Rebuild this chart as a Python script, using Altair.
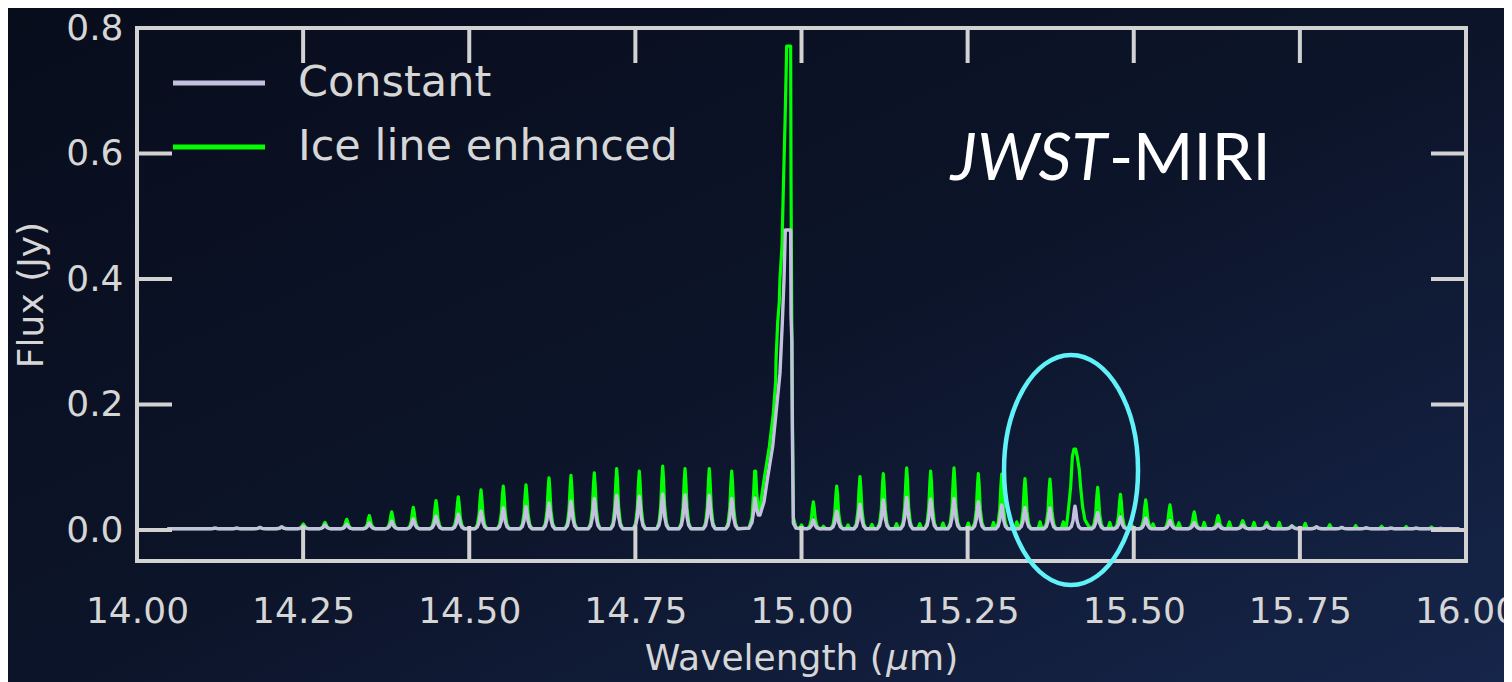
import altair as alt
import pandas as pd

W, H = 1329, 533
FONT = "DejaVu Sans"
TXT = "#d6d6d6"
FRAME = "#d2d2d2"
C_CONST = "#c4c1df"
C_ICE = "#00ff00"
C_ELL = "#60f2f8"

# ---- data -----------------------------------------------------------------
# P- and R-branch line centres (micron) and peak fluxes (Jy)
line_wl = [14.0546, 14.0847, 14.1174, 14.1500, 14.1850, 14.2178, 14.2503, 14.2829, 14.3156, 14.3496,
           14.3833, 14.4158, 14.4500, 14.4835, 14.5177, 14.5512, 14.5854, 14.6200, 14.6531, 14.6882,
           14.7219, 14.7559, 14.7911, 14.8247, 14.8612, 14.8950,
           15.0178, 15.0530, 15.0880, 15.1231, 15.1583, 15.1944, 15.2295, 15.2661, 15.3013, 15.3363,
           15.3739, 15.4116, 15.4457, 15.4800, 15.5180, 15.5545, 15.5910, 15.6270, 15.6640, 15.7000,
           15.7380, 15.7750, 15.8130, 15.8500, 15.8870, 15.9250, 15.9620]
const_peak = [0.002, 0.002, 0.003, 0.003, 0.004, 0.005, 0.006, 0.008, 0.009, 0.011,
              0.014, 0.0175, 0.022, 0.025, 0.030, 0.035, 0.037, 0.043, 0.046, 0.050,
              0.055, 0.054, 0.057, 0.056, 0.055, 0.050,
              0.016, 0.030, 0.041, 0.048, 0.052, 0.049, 0.050, 0.045, 0.040, 0.036,
              0.035, 0.038, 0.028, 0.021, 0.019, 0.015, 0.012, 0.0096, 0.008, 0.007,
              0.006, 0.005, 0.004, 0.0035, 0.003, 0.003, 0.0025]
ice_peak = [0.002, 0.002, 0.003, 0.003, 0.004, 0.005, 0.0096, 0.012, 0.017, 0.023,
            0.029, 0.036, 0.047, 0.053, 0.064, 0.070, 0.072, 0.083, 0.087, 0.091,
            0.098, 0.094, 0.102, 0.098, 0.098, 0.094,
            0.045, 0.070, 0.085, 0.090, 0.099, 0.094, 0.099, 0.090, 0.089, 0.082,
            0.081, None, 0.068, 0.057, 0.048, 0.040, 0.029, 0.023, 0.015, 0.012,
            0.007, 0.005, 0.004, 0.0035, 0.003, 0.003, 0.0025]

# weak lines seen only in the enhanced model
weak_wl = [15.000, 15.033, 15.070, 15.106, 15.143, 15.178, 15.213, 15.251, 15.289, 15.324,
           15.359, 15.394, 15.464, 15.497, 15.529, 15.568, 15.606, 15.644, 15.681, 15.719,
           15.758, 15.795, 15.834, 15.873, 15.910, 15.948]
weak_peak = [0.008, 0.006, 0.008, 0.009, 0.010, 0.010, 0.011, 0.011, 0.012, 0.013,
             0.013, 0.013, 0.012, 0.008, 0.0096, 0.0117, 0.012, 0.0128, 0.012, 0.012,
             0.0105, 0.0085, 0.007, 0.006, 0.0055, 0.005]

# Q-branch (incl. the last P line) traced point by point
q_wl_const = [14.921, 14.9255, 14.928, 14.930, 14.932, 14.935, 14.9375, 14.9436, 14.9485, 14.9566,
              14.9616, 14.9666, 14.9676, 14.9711, 14.9737, 14.9756, 14.9837, 14.9842, 14.9855,
              14.9862, 14.9877, 14.9917]
q_flux_const = [0.003, 0.012, 0.030, 0.051, 0.035, 0.024, 0.024, 0.045, 0.080, 0.133,
                0.186, 0.239, 0.250, 0.330, 0.400, 0.478, 0.478, 0.343, 0.300,
                0.160, 0.011, 0.003]
q_wl_ice = [14.921, 14.9255, 14.928, 14.9295, 14.931, 14.9325, 14.935, 14.9375, 14.9436, 14.9516,
            14.9576, 14.9612, 14.9616, 14.9641, 14.9666, 14.9676, 14.9707, 14.9726, 14.9752,
            14.9777, 14.9837, 14.9842, 14.9857, 14.9877, 14.9917]
q_flux_ice = [0.003, 0.020, 0.060, 0.094, 0.094, 0.060, 0.032, 0.035, 0.080, 0.133,
              0.186, 0.239, 0.268, 0.330, 0.364, 0.400, 0.454, 0.542, 0.648,
              0.771, 0.771, 0.558, 0.266, 0.020, 0.004]

# enhanced ice-line feature near 15.41 micron
feat_wl = [15.3985, 15.4016, 15.4051, 15.4076, 15.4100, 15.4125, 15.4150, 15.4180, 15.4200,
           15.4230, 15.4266, 15.4316, 15.4340]
feat_flux = [0.004, 0.032, 0.069, 0.117, 0.129, 0.129, 0.117, 0.096, 0.069,
             0.037, 0.016, 0.007, 0.004]

data_range = [14.050, 15.990]
x_ticks = [14.0, 14.25, 14.5, 14.75, 15.0, 15.25, 15.5, 15.75, 16.0]
y_ticks = [0.0, 0.2, 0.4, 0.6, 0.8]
series_names = ["Constant", "Ice line enhanced"]
x_title_parts = ["Wavelength (", "μ", "m)"]

# annotation anchors (data coordinates)
label_pos = {"wl": 15.4612, "flux": 0.5578}
ellipse_pos = {"wl": 15.4056, "flux": 0.0956}

# ---- table building ---------------------------------------------------------
BASE = 0.002
OFF = [-0.009, -0.0055, -0.003, -0.0012, 0.0, 0.0012, 0.003, 0.0055, 0.009]
FRAC = [0.0, 0.1, 0.35, 0.8, 1.0, 0.8, 0.35, 0.1, 0.0]
WOFF = [-0.0035, -0.0015, 0.0, 0.0015, 0.0035]
WFRAC = [0.0, 0.5, 1.0, 0.5, 0.0]


def spikes(centres, peaks, off, frac):
    pts = []
    for c, h in zip(centres, peaks):
        if h is None:
            continue
        pts += [(c + o, BASE + f * (h - BASE)) for o, f in zip(off, frac)]
    return pts


ends = [(data_range[0], BASE), (data_range[1], BASE)]
const_pts = ends + spikes(line_wl, const_peak, OFF, FRAC) + list(zip(q_wl_const, q_flux_const))
ice_pts = (ends + spikes(line_wl, ice_peak, OFF, FRAC) + spikes(weak_wl, weak_peak, WOFF, WFRAC)
           + list(zip(q_wl_ice, q_flux_ice)) + list(zip(feat_wl, feat_flux)))

const_df = pd.DataFrame(const_pts, columns=["wl", "flux"]).sort_values("wl").drop_duplicates("wl")
ice_df = pd.DataFrame(ice_pts, columns=["wl", "flux"]).sort_values("wl").drop_duplicates("wl")
const_df["series"] = series_names[0]
ice_df["series"] = series_names[1]

one = pd.DataFrame({"a": [0]})

x_enc = alt.X("wl:Q", scale=alt.Scale(domain=[14, 16], nice=False, zero=False),
              axis=alt.Axis(values=x_ticks, format=".2f", title=None,
                            domain=False, ticks=False, tickSize=0, grid=False, zindex=5,
                            labelPadding=33, labelFont=FONT, labelFontSize=36, labelColor=TXT,
                            labelOverlap=False, labelBound=False, labelFlush=False))
y_enc = alt.Y("flux:Q", scale=alt.Scale(domain=[-0.0494, 0.8], nice=False, zero=False),
              axis=alt.Axis(values=y_ticks, format=".1f", title="Flux (Jy)",
                            domain=False, ticks=False, tickSize=0, grid=False, zindex=5,
                            labelPadding=14, labelFont=FONT, labelFontSize=36, labelColor=TXT,
                            labelOverlap=False, labelBound=False, labelFlush=False,
                            titleFont=FONT, titleFontSize=36, titleColor=TXT,
                            titleFontWeight="normal", titleBaseline="alphabetic",
                            titleAngle=270, titleX=-95, titleY=H / 2))

bg = alt.Chart(one).mark_rect(
    fill=alt.LinearGradient(gradient="linear", x1=0, y1=0, x2=1, y2=1,
                            stops=[alt.GradientStop(color="#080d1c", offset=0),
                                   alt.GradientStop(color="#0c1429", offset=0.5),
                                   alt.GradientStop(color="#16254a", offset=1)])
).encode(x=alt.value(-129), x2=alt.value(W + 38), y=alt.value(-20), y2=alt.value(H + 121))

ice_line = alt.Chart(ice_df).mark_line(color=C_ICE, strokeWidth=3.2, strokeJoin="round").encode(
    x=x_enc, y=y_enc)
const_line = alt.Chart(const_df).mark_line(color=C_CONST, strokeWidth=3.4, strokeJoin="round").encode(
    x="wl:Q", y="flux:Q")

xt = pd.DataFrame({"wl": x_ticks[1:-1]})
yt = pd.DataFrame({"flux": y_ticks[:-1]})
TL = 35
tick_b = alt.Chart(xt).mark_rule(color=FRAME, strokeWidth=4).encode(
    x="wl:Q", y=alt.value(H), y2=alt.value(H - TL))
tick_t = alt.Chart(xt).mark_rule(color=FRAME, strokeWidth=4).encode(
    x="wl:Q", y=alt.value(0), y2=alt.value(TL))
tick_l = alt.Chart(yt).mark_rule(color=FRAME, strokeWidth=4).encode(
    y="flux:Q", x=alt.value(0), x2=alt.value(TL))
tick_r = alt.Chart(yt).mark_rule(color=FRAME, strokeWidth=4).encode(
    y="flux:Q", x=alt.value(W), x2=alt.value(W - TL))
frame = alt.Chart(one).mark_rect(fillOpacity=0, stroke=FRAME, strokeWidth=4).encode(
    x=alt.value(0), x2=alt.value(W), y=alt.value(0), y2=alt.value(H))

# x-axis title with an italic mu (as matplotlib mathtext draws it)
TY = H + 109
w1, w2, w3 = 241.4, 22.9, 49.1
x0 = W / 2 - (w1 + w2 + w3) / 2
xt1 = alt.Chart(one).mark_text(text=x_title_parts[0], align="left", baseline="alphabetic",
                               font=FONT, fontSize=36, color=TXT).encode(
    x=alt.value(x0), y=alt.value(TY))
xt2 = alt.Chart(one).mark_text(text=x_title_parts[1], align="left", baseline="alphabetic",
                               font=FONT, fontStyle="italic", fontSize=36, color=TXT).encode(
    x=alt.value(x0 + w1), y=alt.value(TY))
xt3 = alt.Chart(one).mark_text(text=x_title_parts[2], align="left", baseline="alphabetic",
                               font=FONT, fontSize=36, color=TXT).encode(
    x=alt.value(x0 + w1 + w2), y=alt.value(TY))

a, k = 0.5826, 0.5523
ak = a * k
ELLIPSE = (f"M {a} 0 C {a} {k} {ak:.4f} 1 0 1 C {-ak:.4f} 1 {-a} {k} {-a} 0 "
           f"C {-a} {-k} {-ak:.4f} -1 0 -1 C {ak:.4f} -1 {a} {-k} {a} 0 Z")
ell = alt.Chart(pd.DataFrame([ellipse_pos])).mark_point(
    shape=ELLIPSE, size=230 ** 2, filled=False, color=C_ELL, strokeWidth=4.5, opacity=1
).encode(x="wl:Q", y="flux:Q")

lab_df = pd.DataFrame([label_pos])
jwst = alt.Chart(lab_df).mark_text(
    text="JWST", align="right", baseline="alphabetic", font="Lato", fontStyle="italic",
    fontSize=65, color="white", dx=-1).encode(x="wl:Q", y="flux:Q")
miri = alt.Chart(lab_df).mark_text(
    text="-MIRI", align="left", baseline="alphabetic", font="Lato",
    fontSize=65, color="white", dx=1).encode(x="wl:Q", y="flux:Q")

leg = []
for i, (name, col) in enumerate(zip(series_names, [C_CONST, C_ICE])):
    yy = 55 + 64 * i
    leg.append(alt.Chart(one).mark_rule(color=col, strokeWidth=5).encode(
        x=alt.value(36), x2=alt.value(128), y=alt.value(yy)))
    leg.append(alt.Chart(one).mark_text(
        text=name, align="left", baseline="middle", font=FONT, fontSize=43, color=TXT
    ).encode(x=alt.value(161), y=alt.value(yy)))

chart = alt.layer(bg, ice_line, const_line, tick_b, tick_t, tick_l, tick_r, frame, ell, jwst, miri,
                  xt1, xt2, xt3, *leg).properties(
    width=W, height=H,
    autosize=alt.AutoSizeParams(type="none"),
    padding={"left": 129, "top": 20, "right": 38, "bottom": 121},
    background="#0b1226",
).configure_view(stroke=None)

chart.save("out.html", embed_options={"renderer": "svg", "actions": False})
